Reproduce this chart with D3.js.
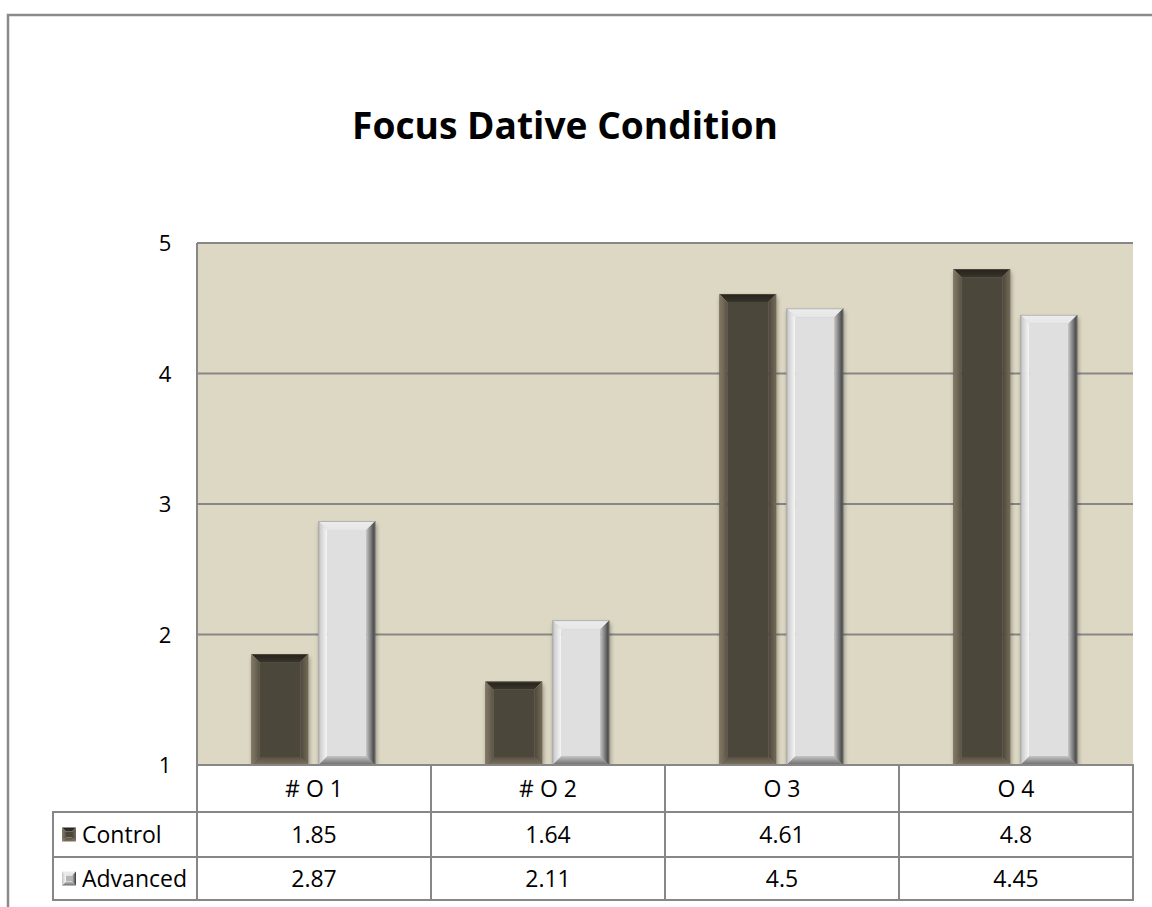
<!DOCTYPE html>
<html>
<head>
<meta charset="utf-8">
<script src="https://cdn.jsdelivr.net/npm/d3@7"></script>
<style>
  html, body { margin: 0; padding: 0; background: #ffffff; overflow: hidden; }
  svg { display: block; }
  text { font-family: "Open Sans", "Noto Sans", sans-serif; fill: #000; }
</style>
</head>
<body>
<svg id="chart" width="1152" height="907"></svg>
<script>
// ---- data ----
const categories = ["# O 1", "# O 2", "O 3", "O 4"];
const seriesNames = ["Control", "Advanced"];
const controlValues = [1.85, 1.64, 4.61, 4.8];
const advancedValues = [2.87, 2.11, 4.5, 4.45];
const yTicks = [1, 2, 3, 4, 5];
const titleText = "Focus Dative Condition";

const seriesValues = [controlValues, advancedValues];

// ---- layout ----
const W = 1152, H = 907;
const plot = { left: 197, right: 1133, top: 243, bottom: 765 };
const rowH = [47, 45, 43];          // category row, Control row, Advanced row
const legendLeft = 53;
const gridColor = "#878787";
const tableFont = 23;

const svg = d3.select("#chart");

// outer chart frame (top and left edges fall inside the page)
svg.append("path")
  .attr("d", `M8,${H} L8,15 L${W},15`)
  .attr("fill", "none")
  .attr("stroke", "#8a8a8a").attr("stroke-width", 2.5);

// title
const title = svg.append("text")
  .attr("x", 565).attr("y", 139)
  .attr("text-anchor", "middle")
  .attr("font-weight", "bold")
  .attr("font-size", 40)
  .text(titleText);
{
  const len = title.node().getComputedTextLength();
  title.attr("font-size", 40 * 426 / len);
}

// scales
const x0 = d3.scaleBand().domain(categories).range([plot.left, plot.right]);
const bw = x0.bandwidth();
const x1 = d3.scaleBand().domain(seriesNames)
  .range([bw * 0.232, bw * 0.762]).paddingInner(0.15);
const y = d3.scaleLinear().domain([1, 5]).range([plot.bottom, plot.top]);

// plot area background
svg.append("rect")
  .attr("x", plot.left).attr("y", plot.top)
  .attr("width", plot.right - plot.left).attr("height", plot.bottom - plot.top)
  .attr("fill", "#ddd8c3");

// horizontal gridlines
svg.append("g").selectAll("line")
  .data(yTicks.filter(t => t > 1))
  .join("line")
  .attr("x1", plot.left).attr("x2", plot.right)
  .attr("y1", d => y(d)).attr("y2", d => y(d))
  .attr("stroke", gridColor).attr("stroke-width", 2);

// y-axis tick labels
svg.append("g").selectAll("text")
  .data(yTicks)
  .join("text")
  .attr("x", 165).attr("y", d => y(d) + 8)
  .attr("text-anchor", "middle")
  .attr("font-size", 22)
  .text(d => d);

// ---- bevel gradients ----
const defs = svg.append("defs");
const styles = {
  Control: {
    face: "#4b463b", outline: "#6a6252",
    top: ["#25221c", "#38342c"],
    left: ["#857b67", "#5b5446"],
    right: ["#756b58", "#4c463b"],
    bottom: ["#7c725f", "#585142"],
    bevel: 8
  },
  Advanced: {
    face: "#dfdfdf", outline: "#8a8a8a",
    top: ["#ededed", "#e6e6e6"],
    left: ["#c4c4c4", "#f8f8f8"],
    right: ["#363636", "#c4c4c4"],
    bottom: ["#6a6a6a", "#c6c6c6"],
    bevel: 9
  }
};
const keyFaces = { Control: "#4b463b", Advanced: "#b5b5b5" };
const dirs = {
  top: { x1: 0, y1: 0, x2: 0, y2: 1 },
  bottom: { x1: 0, y1: 1, x2: 0, y2: 0 },
  left: { x1: 0, y1: 0, x2: 1, y2: 0 },
  right: { x1: 1, y1: 0, x2: 0, y2: 0 }
};
seriesNames.forEach((s, si) => {
  Object.keys(dirs).forEach(side => {
    const g = defs.append("linearGradient")
      .attr("id", `g${si}-${side}`)
      .attr("x1", dirs[side].x1).attr("y1", dirs[side].y1)
      .attr("x2", dirs[side].x2).attr("y2", dirs[side].y2);
    g.append("stop").attr("offset", 0).attr("stop-color", styles[s][side][0]);
    g.append("stop").attr("offset", 1).attr("stop-color", styles[s][side][1]);
  });
});
const shadow = defs.append("filter").attr("id", "barShadow")
  .attr("x", "-20%").attr("y", "-5%").attr("width", "140%").attr("height", "115%");
shadow.append("feDropShadow")
  .attr("dx", 1).attr("dy", 3).attr("stdDeviation", 2)
  .attr("flood-color", "#000").attr("flood-opacity", 0.35);

// draws a bevelled box: a flat face framed by four shaded trapezoids
function bevelBox(g, x, yt, w, h, b, si, face) {
  const pts = {
    top: [[x, yt], [x + w, yt], [x + w - b, yt + b], [x + b, yt + b]],
    bottom: [[x, yt + h], [x + w, yt + h], [x + w - b, yt + h - b], [x + b, yt + h - b]],
    left: [[x, yt], [x + b, yt + b], [x + b, yt + h - b], [x, yt + h]],
    right: [[x + w, yt], [x + w - b, yt + b], [x + w - b, yt + h - b], [x + w, yt + h]]
  };
  g.append("rect")
    .attr("x", x + b).attr("y", yt + b)
    .attr("width", w - 2 * b).attr("height", h - 2 * b)
    .attr("fill", face);
  Object.keys(pts).forEach(side => {
    g.append("polygon")
      .attr("points", pts[side].map(p => p.join(",")).join(" "))
      .attr("fill", `url(#g${si}-${side})`);
  });
}

// ---- bars ----
const barData = [];
categories.forEach((c, ci) => {
  seriesNames.forEach((s, si) => {
    barData.push({ cat: c, series: s, si, value: seriesValues[si][ci] });
  });
});

const bars = svg.append("g").selectAll("g.bar")
  .data(barData)
  .join("g")
  .attr("class", "bar")
  .attr("filter", "url(#barShadow)");

bars.each(function (d) {
  const g = d3.select(this);
  const st = styles[d.series];
  const x = x0(d.cat) + x1(d.series);
  const w = x1.bandwidth();
  const yt = y(d.value);
  const h = y(1) - yt;
  const b = Math.min(st.bevel, h / 2, w / 2);
  bevelBox(g, x, yt, w, h, b, d.si, st.face);
  g.append("rect")
    .attr("x", x + 0.5).attr("y", yt + 0.5)
    .attr("width", w - 1).attr("height", h - 1)
    .attr("fill", "none")
    .attr("stroke", st.outline).attr("stroke-width", 1)
    .attr("stroke-opacity", 0.6);
});

// plot left edge (value axis line)
svg.append("line")
  .attr("x1", plot.left).attr("x2", plot.left)
  .attr("y1", plot.top).attr("y2", plot.bottom)
  .attr("stroke", gridColor).attr("stroke-width", 2);

// ---- data table ----
const rowTop = [plot.bottom, plot.bottom + rowH[0], plot.bottom + rowH[0] + rowH[1]];
const tableBottom = rowTop[2] + rowH[2];
const tbl = svg.append("g");

tbl.append("rect")
  .attr("x", plot.left).attr("y", plot.bottom)
  .attr("width", plot.right - plot.left).attr("height", tableBottom - plot.bottom)
  .attr("fill", "#fff");
tbl.append("rect")
  .attr("x", legendLeft).attr("y", rowTop[1])
  .attr("width", plot.left - legendLeft).attr("height", tableBottom - rowTop[1])
  .attr("fill", "#fff");

const lineStyle = sel => sel.attr("stroke", gridColor).attr("stroke-width", 2);

// horizontal rules
tbl.append("line").attr("x1", plot.left - 1).attr("x2", plot.right + 1)
  .attr("y1", rowTop[0]).attr("y2", rowTop[0]).call(lineStyle);
[rowTop[1], rowTop[2], tableBottom].forEach(yy => {
  tbl.append("line").attr("x1", legendLeft - 1).attr("x2", plot.right + 1)
    .attr("y1", yy).attr("y2", yy).call(lineStyle);
});
// vertical rules
tbl.append("line").attr("x1", legendLeft).attr("x2", legendLeft)
  .attr("y1", rowTop[1]).attr("y2", tableBottom).call(lineStyle);
const colEdges = categories.map(c => x0(c)).concat([plot.right]);
colEdges.forEach(xx => {
  tbl.append("line").attr("x1", xx).attr("x2", xx)
    .attr("y1", rowTop[0]).attr("y2", tableBottom).call(lineStyle);
});

// category labels
tbl.selectAll("text.cat")
  .data(categories)
  .join("text")
  .attr("class", "cat")
  .attr("x", d => x0(d) + bw / 2)
  .attr("y", rowTop[0] + rowH[0] / 2 + 8)
  .attr("text-anchor", "middle")
  .attr("font-size", tableFont)
  .text(d => d);

// value rows with legend keys
seriesNames.forEach((s, si) => {
  const ry = rowTop[si + 1] + rowH[si + 1] / 2 + 8;
  tbl.selectAll(`text.val${si}`)
    .data(seriesValues[si])
    .join("text")
    .attr("class", `val${si}`)
    .attr("x", (d, i) => x0(categories[i]) + bw / 2)
    .attr("y", ry)
    .attr("text-anchor", "middle")
    .attr("font-size", tableFont)
    .text(d => d);

  const ks = 14, kx = 62, ky = rowTop[si + 1] + rowH[si + 1] / 2 - ks / 2;
  bevelBox(tbl.append("g"), kx, ky, ks, ks, 4, si, keyFaces[s]);

  tbl.append("text")
    .attr("x", 82).attr("y", ry)
    .attr("font-size", tableFont)
    .text(s);
});
</script>
</body>
</html>
